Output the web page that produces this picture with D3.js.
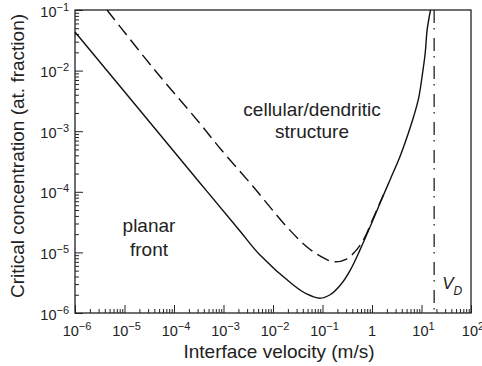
<!DOCTYPE html>
<html>
<head>
<meta charset="utf-8">
<script src="https://cdn.jsdelivr.net/npm/d3@7"></script>
<style>
  body { margin: 0; background: #fff; }
  svg { font-family: "Liberation Sans", Arial, Helvetica, sans-serif; }
</style>
</head>
<body>
<svg width="482" height="366"></svg>
<script>
// solid curve: critical concentration vs interface velocity
const solidV = [1e-6, 3.27e-5, 3.35e-4, 2.15e-3, 5.46e-3, 0.0257, 0.048, 0.0889, 0.142, 0.226,
                0.36, 0.573, 0.912, 1.45, 2.31, 3.68, 5.29, 6.97, 8.82, 10.4, 11.9, 13.0, 15.2];
const solidC = [0.0434, 1.39e-3, 1.40e-4, 2.25e-5, 9.06e-6, 2.90e-6, 2.06e-6, 1.75e-6, 2.00e-6, 2.85e-6,
                5.02e-6, 1.10e-5, 2.62e-5, 6.46e-5, 1.57e-4, 3.83e-4, 8.74e-4, 1.76e-3, 3.63e-3, 8.56e-3,
                0.0197, 0.0470, 0.1];

// dashed curve
const dashV = [4.43e-6, 3.82e-5, 3.35e-4, 8.49e-4, 4.0e-3, 0.0189, 0.048, 0.0889, 0.165,
               0.308, 0.454, 0.667, 1.06, 1.69];
const dashC = [0.1, 0.0109, 1.34e-3, 5.22e-4, 1.21e-4, 2.65e-5, 1.24e-5, 8.73e-6, 7.03e-6,
               7.78e-6, 1.03e-5, 1.60e-5, 3.70e-5, 8.85e-5];

const vD = 18;
const xExp = [-6, -5, -4, -3, -2, -1, 0, 1, 2];
const yExp = [-6, -5, -4, -3, -2, -1];

const svg = d3.select('svg'),
    margin = {top: 10, right: 11, bottom: 53, left: 75},
    width = +svg.attr('width'),
    height = +svg.attr('height');

const x = d3.scaleLog().domain([1e-6, 1e2]).range([margin.left, width - margin.right]);
const y = d3.scaleLog().domain([1e-6, 1e-1]).range([height - margin.bottom, margin.top]);

const minorOf = exps => {
  let out = [];
  exps.slice(0, -1).forEach(e => {
    for (let k = 2; k < 10; k++) out.push(k * Math.pow(10, e));
  });
  return out;
}
const xMajor = xExp.map(e => Math.pow(10, e));
const yMajor = yExp.map(e => Math.pow(10, e));

const axisStyle = g => {
  g.select('.domain').remove();
  g.selectAll('line').attr('stroke', '#222').attr('stroke-width', 1);
}

const gx = svg.append('g').attr('transform', `translate(0,${height - margin.bottom})`);
gx.append('g').call(d3.axisBottom(x).tickValues(minorOf(xExp)).tickSize(-4).tickFormat('')).call(axisStyle);
gx.append('g').call(d3.axisBottom(x).tickValues(xMajor).tickSize(-8).tickFormat('')).call(axisStyle);

const gy = svg.append('g').attr('transform', `translate(${margin.left},0)`);
gy.append('g').call(d3.axisLeft(y).tickValues(minorOf(yExp)).tickSize(-4).tickFormat('')).call(axisStyle);
gy.append('g').call(d3.axisLeft(y).tickValues(yMajor).tickSize(-8).tickFormat('')).call(axisStyle);

// frame
svg.append('rect')
  .attr('x', x.range()[0]).attr('y', y.range()[1])
  .attr('width', x.range()[1] - x.range()[0])
  .attr('height', y.range()[0] - y.range()[1])
  .attr('fill', 'none').attr('stroke', '#222').attr('stroke-width', 1.3);

// tick labels
const powLabel = (sel, e) => {
  if (e === 0) { sel.text('1'); return; }
  sel.append('tspan').text('10');
  sel.append('tspan').attr('font-size', 11).attr('dy', -6).text(e < 0 ? '\u2212' + (-e) : e);
}

xExp.forEach(e => {
  svg.append('text')
    .attr('x', x(Math.pow(10, e)) + (e === 0 ? 0 : 2))
    .attr('y', height - margin.bottom + 23)
    .attr('text-anchor', 'middle')
    .attr('font-size', 14.5).attr('fill', '#222')
    .call(powLabel, e);
});

yExp.forEach(e => {
  svg.append('text')
    .attr('x', margin.left - 6)
    .attr('y', y(Math.pow(10, e)) + 6.5)
    .attr('text-anchor', 'end')
    .attr('font-size', 14.5).attr('fill', '#222')
    .call(powLabel, e);
});

// axis titles
svg.append('text')
  .attr('x', 279).attr('y', 358)
  .attr('text-anchor', 'middle').attr('font-size', 19).attr('fill', '#222')
  .text('Interface velocity (m/s)');

svg.append('text')
  .attr('transform', 'translate(24,156) rotate(-90)')
  .attr('text-anchor', 'middle').attr('font-size', 19).attr('fill', '#222')
  .text('Critical concentration (at. fraction)');

// curves
const line = d3.line()
    .x(d => x(d[0]))
    .y(d => y(d[1]))
    .curve(d3.curveCatmullRom.alpha(0.5));

svg.append('path')
  .datum(solidV.map((v, i) => [v, solidC[i]]))
  .attr('fill', 'none').attr('stroke', '#111').attr('stroke-width', 1.4)
  .attr('d', line);

svg.append('path')
  .datum(dashV.map((v, i) => [v, dashC[i]]))
  .attr('fill', 'none').attr('stroke', '#111').attr('stroke-width', 1.4)
  .attr('stroke-dasharray', '13,6')
  .attr('d', line);

// V_D line
svg.append('line')
  .attr('x1', x(vD)).attr('x2', x(vD))
  .attr('y1', y.range()[1]).attr('y2', y.range()[0])
  .attr('stroke', '#111').attr('stroke-width', 1.2)
  .attr('stroke-dasharray', '13,5,1.5,8.5');

const vdText = svg.append('text')
  .attr('x', x(vD) + 8).attr('y', 289)
  .attr('font-size', 17).attr('font-style', 'italic').attr('fill', '#222');
vdText.append('tspan').text('V');
vdText.append('tspan').attr('font-size', 12).attr('dy', 6).text('D');

// region labels
const regionLabel = (lines, cx, y0, dy) => {
  lines.forEach((t, i) => {
    svg.append('text')
      .attr('x', cx).attr('y', y0 + i * dy)
      .attr('text-anchor', 'middle').attr('font-size', 19).attr('fill', '#222')
      .text(t);
  });
}
regionLabel(['cellular/dendritic', 'structure'], 312, 116, 22);
regionLabel(['planar', 'front'], 149, 232, 24);
</script>
</body>
</html>
